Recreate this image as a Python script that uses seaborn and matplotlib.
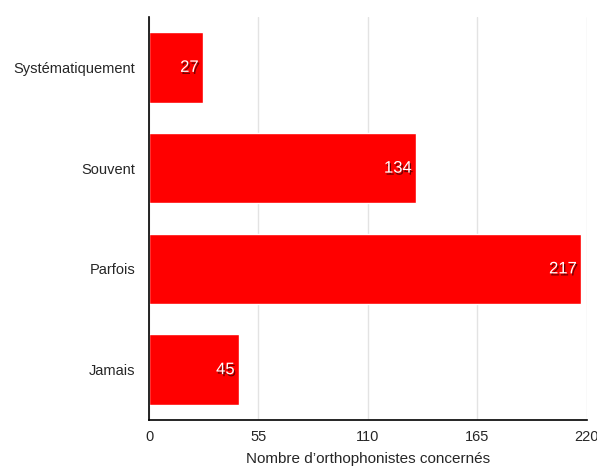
import pandas as pd
import seaborn as sns
import matplotlib.pyplot as plt
import matplotlib.patheffects as pe

categories = ['Systématiquement', 'Souvent', 'Parfois', 'Jamais']
counts = [27, 134, 217, 45]
xticks = [0, 55, 110, 165, 220]

sns.set_style('white')
plt.rcParams.update({'font.family': ['Liberation Sans', 'DejaVu Sans'], 'font.size': 10})

df = pd.DataFrame({'reponse': categories, 'n': counts})

fig = plt.figure(figsize=(5.97, 4.67), dpi=100)
ax = fig.add_axes([0.2496, 0.1006, 0.7334, 0.863])
sns.barplot(data=df, x='n', y='reponse', color='#ff0000', saturation=1, width=0.7,
            orient='h', ax=ax, zorder=2)

ax.set_xlim(0, 220)
ax.set_xticks(xticks)
ax.set_xticklabels([str(t) for t in xticks], fontsize=10.5)
ax.xaxis.grid(True, color='#e3e3e3', lw=1, zorder=0)
ax.set_axisbelow(True)
ax.tick_params(axis='both', length=0, pad=7)
ax.tick_params(axis='y', labelsize=10.5, pad=10)
ax.set_ylabel('')
ax.set_xlabel('Nombre d’orthophonistes concernés', fontsize=11, labelpad=6)

for s in ['top', 'right']:
    ax.spines[s].set_visible(False)
for s in ['left', 'bottom']:
    ax.spines[s].set_color('black')
    ax.spines[s].set_linewidth(1.2)

for i, v in enumerate(counts):
    ax.text(v - 2, i, str(v), ha='right', va='center', color='white', fontsize=12,
            path_effects=[pe.withSimplePatchShadow(offset=(1, -1.5), shadow_rgbFace='#500000', alpha=0.8)],
            zorder=3)

fig.savefig('out.png', dpi=100)
